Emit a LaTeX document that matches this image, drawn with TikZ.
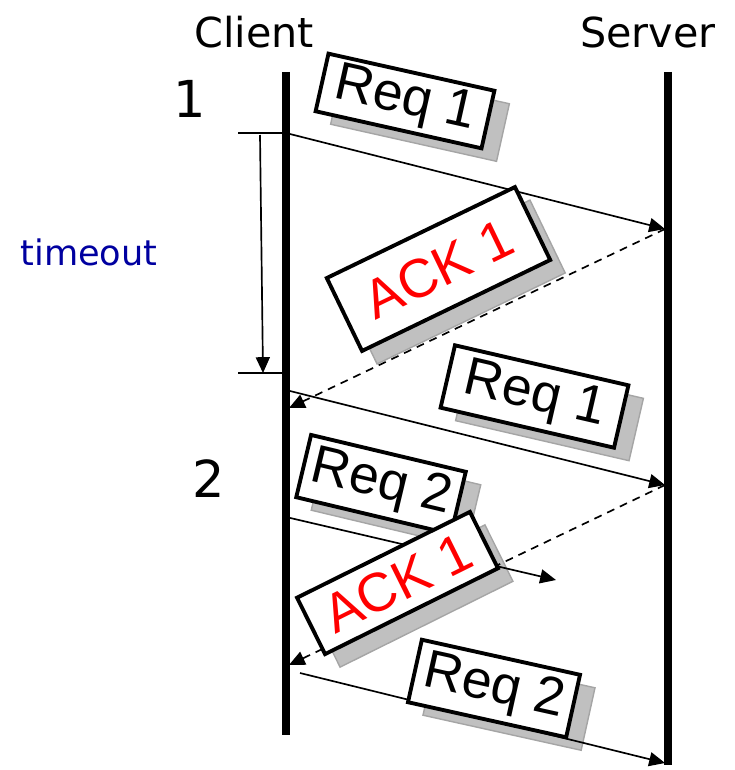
\documentclass[tikz,border=0pt]{standalone}
\usepackage{fontspec}
\setmainfont{Liberation Sans}
\newfontfamily\labelfont{DejaVu Sans}
\usetikzlibrary{%
  arrows.meta,%
  calc%
}
\definecolor{toblue}{RGB}{0,0,160}
\definecolor{shadowgray}{RGB}{192,192,192}
\definecolor{shadowedge}{RGB}{165,165,165}

\begin{document}
\begin{tikzpicture}[x=0.02cm,y=-0.02cm,
    lifeline/.style={line width=4pt},
    msg/.style={line width=0.95pt,-{Triangle[length=9pt,width=8pt]}},
    ackmsg/.style={msg,dash pattern=on 4.5pt off 3.5pt},
    pktsize/.style n args={3}{minimum width=#1*0.02cm,minimum height=#2*0.02cm,rotate=#3},
    pkt/.style={draw,line width=2.2pt,fill=white,inner sep=0pt,
      font=\fontsize{30.5}{30.5}\selectfont},
    ackpkt/.style={pkt,text=red,font=\fontsize{31}{31}\selectfont},
    pktshadow/.style={draw=shadowedge,line width=0.8pt,fill=shadowgray,inner sep=0pt},
    biglabel/.style={anchor=base,font=\labelfont\fontsize{23.5}{23.5}\selectfont}]
  \useasboundingbox (0,0) rectangle (734,770);

  % hosts and their time lines
  \node[biglabel] (client) at (254,48) {Client};
  \node[biglabel] (server) at (648,48) {Server};
  \coordinate (ctop) at (286,72);
  \coordinate (cbot) at (286,735);
  \coordinate (stop) at (668,72);
  \coordinate (sbot) at (668,765);
  \draw[lifeline] (ctop) -- (cbot);
  \draw[lifeline] (stop) -- (sbot);

  % sequence numbers
  \node[biglabel,font=\labelfont\fontsize{29}{29}\selectfont] (seq1) at (190,118) {1};
  \node[biglabel,font=\labelfont\fontsize{29}{29}\selectfont] (seq2) at (209,497) {2};

  % timer
  \coordinate (tstart) at (238,133);
  \coordinate (tend) at (238,373);
  \coordinate (tstartc) at (286,133);
  \coordinate (tendc) at (286,373);
  \coordinate (tarrow0) at (260,135);
  \coordinate (tarrow1) at (263,373);
  \draw[line width=0.95pt] (tstart) -- (tstartc);
  \draw[line width=0.95pt] (tend) -- (tendc);
  \draw[msg] (tarrow0) -- (tarrow1);
  \node[anchor=base,text=toblue,font=\labelfont\fontsize{20}{20}\selectfont]
    (timeout) at (89,265) {timeout};

  % shadows sit below the messages
  \foreach \cx/\cy/\w/\h/\a in {405/101/170/59/-12.6, 438.5/269/209/81/25.8,
      534.5/396.5/178/64/-13, 381/484.5/159/64/-13.4,
      397.5/583/193/63/26.4, 494/688.5/162/64/-12.5}
    \node[pktshadow,pktsize={\w}{\h}{\a}] at (\cx+15,\cy+13) {};

  % messages
  \coordinate (c1) at (286,133);
  \coordinate (s1) at (665,229);
  \coordinate (c2) at (289,408);
  \coordinate (c3) at (286,390);
  \coordinate (s2) at (665,485);
  \coordinate (c4) at (286,517);
  \coordinate (lost) at (556,580);
  \coordinate (c5) at (289,665);
  \coordinate (c6) at (300,673);
  \coordinate (s3) at (665,763);
  \draw[msg] (c1) -- (s1);
  \draw[ackmsg] (s1) -- (c2);
  \draw[msg] (c3) -- (s2);
  \draw[ackmsg] (s2) -- (c5);
  \draw[msg] (c4) -- (lost);
  \draw[msg] (c6) -- (s3);

  % packets
  \node[pkt,pktsize={170}{59}{-12.6}] (req1a) at (405,101) {Req 1};
  \node[ackpkt,pktsize={209}{81}{25.8}] (ack1a) at (438.5,269) {ACK 1};
  \node[pkt,pktsize={178}{64}{-13}] (req1b) at (534.5,396.5) {Req 1};
  \node[pkt,pktsize={159}{64}{-13.4}] (req2a) at (381,484.5) {Req 2};
  \node[ackpkt,pktsize={193}{63}{26.4}] (ack1b) at (397.5,583) {ACK 1};
  \node[pkt,pktsize={162}{64}{-12.5}] (req2b) at (494,688.5) {Req 2};
\end{tikzpicture}
\end{document}
